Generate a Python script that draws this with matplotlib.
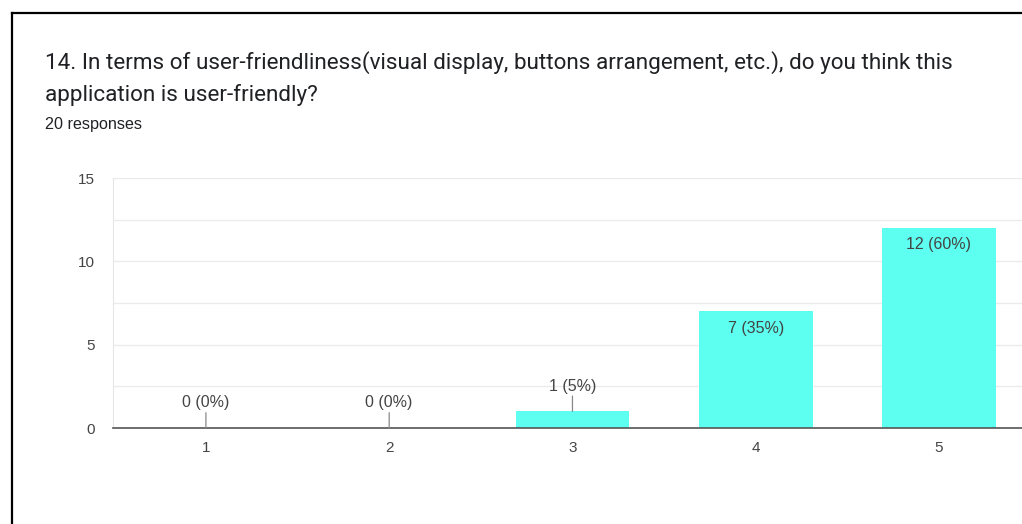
import numpy as np
import matplotlib.pyplot as plt
from matplotlib.lines import Line2D

# Data
categories = ['1', '2', '3', '4', '5']
counts = [0, 0, 1, 7, 12]
percents = [0, 0, 5, 35, 60]
total = 20

title_lines = ["14. In terms of user-friendliness(visual display, buttons arrangement, etc.), do you think this",
               "application is user-friendly?"]
subtitle = f"{total} responses"

bar_color = '#5cfff0'
text_color = '#444444'

plt.rcParams['font.family'] = ['Liberation Sans', 'DejaVu Sans']

fig = plt.figure(figsize=(10.22, 5.24), dpi=100)
fig.patch.set_facecolor('white')

# card frame (left and top edges)
fig.add_artist(Line2D([12 / 1022, 12 / 1022], [0, 1 - 13 / 524], color='black', lw=1.6,
                      transform=fig.transFigure))
fig.add_artist(Line2D([12 / 1022, 1], [1 - 13 / 524, 1 - 13 / 524], color='black', lw=1.6,
                      transform=fig.transFigure))

for line, ypx in zip(title_lines, [69, 101]):
    fig.text(45 / 1022, 1 - ypx / 524, line, fontsize=16.2, color='#202124', va='baseline',
             ha='left', family=['Roboto', 'DejaVu Sans'])
fig.text(45 / 1022, 1 - 125 / 524, subtitle, fontsize=11.6, color='#202124', va='center', ha='left')

ax = fig.add_axes([113 / 1022, 1 - 428 / 524, 1 - 113 / 1022, 250 / 524])
x = np.arange(1, len(categories) + 1)
ax.bar(x, counts, width=0.62, color=bar_color, zorder=3)

ax.set_xlim(0.493, 5.453)
ax.set_ylim(0, 15)
ax.set_yticks([0, 5, 10, 15])
ax.set_yticks([2.5, 7.5, 12.5], minor=True)
ax.set_xticks(x)
ax.set_xticklabels(categories)
ax.grid(axis='y', which='both', color='#ebebeb', lw=1, zorder=0)
ax.tick_params(axis='both', which='both', length=0, labelsize=11, labelcolor=text_color)
ax.tick_params(axis='y', pad=13)
ax.tick_params(axis='x', pad=9)
for s in ['top', 'right']:
    ax.spines[s].set_visible(False)
ax.spines['left'].set_color('#e6e6e6')
ax.spines['bottom'].set_color('#555555')
ax.spines['bottom'].set_linewidth(1.2)
ax.spines['bottom'].set_zorder(4)

# value labels
for xi, c, p in zip(x, counts, percents):
    label = f"{c} ({p}%)"
    if c >= 3:
        ax.annotate(label, (xi, c), xytext=(0, -12), textcoords='offset points',
                    ha='center', va='center', fontsize=11.5, color=text_color, zorder=5)
    else:
        ax.annotate(label, (xi, c), xytext=(0, 18), textcoords='offset points',
                    ha='center', va='center', fontsize=11.5, color=text_color, zorder=5)
        # leader line from the bar top up toward the label
        ax.annotate('', xy=(xi, c), xytext=(0, 11), textcoords='offset points',
                    arrowprops=dict(arrowstyle='-', color='#888888', lw=0.9,
                                    shrinkA=0, shrinkB=0), zorder=5)

fig.savefig('out.png', dpi=100, facecolor='white')
